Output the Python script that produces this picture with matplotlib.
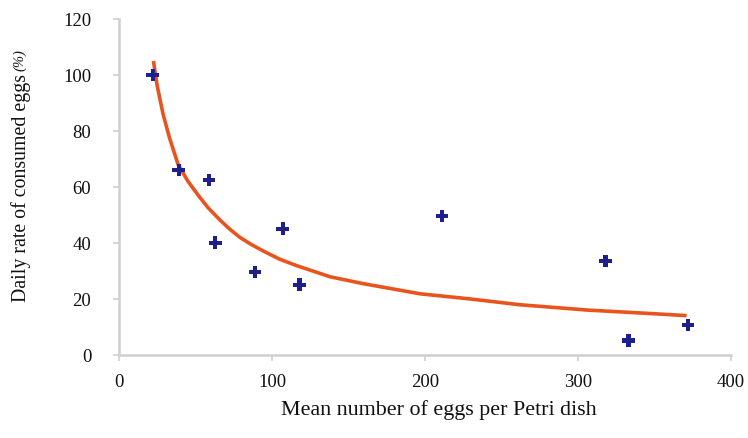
import matplotlib.pyplot as plt

eggs = [22, 39, 59, 63, 89, 107, 118, 211, 318, 333, 372]
rate = [100, 66, 62.5, 40, 29.5, 45, 25, 49.5, 33.5, 5, 10.5]

# trend line
trend_x = [22.5, 25, 28.8, 33, 38.6, 45, 52, 58.2, 66, 72.5, 79, 86, 94, 105, 116,
           138, 160, 197, 229, 262, 306, 349, 371]
trend_y = [105, 96, 86, 77.5, 68, 62, 56.8, 52.5, 48.1, 44.8, 41.9, 39.5, 37.1,
           34.1, 31.8, 27.8, 25.3, 21.7, 19.9, 17.8, 15.9, 14.6, 13.9]

plt.rcParams['font.family'] = 'Liberation Serif'

fig = plt.figure(figsize=(7.48, 4.39), dpi=100)
ax = fig.add_axes([119 / 748, 1 - 355.5 / 439, (731 - 119) / 748, (355.5 - 20) / 439])

ax.plot(trend_x, trend_y, color='#e8541e', linewidth=2.6, solid_capstyle='butt',
        solid_joinstyle='round', zorder=2)
ax.scatter(eggs, rate, marker='P', s=80, color='#1c1f8c', edgecolors='none', zorder=3)

ax.set_xlim(0, 400)
ax.set_ylim(0, 120)
ax.set_xticks([0, 100, 200, 300, 400])
ax.set_yticks([0, 20, 40, 60, 80, 100, 120])

for side in ['top', 'right']:
    ax.spines[side].set_visible(False)
for side in ['left', 'bottom']:
    ax.spines[side].set_color('#cfcfcf')
    ax.spines[side].set_linewidth(1.8)
ax.tick_params(axis='both', colors='#cfcfcf', length=4, width=1.2, labelcolor='#111111', labelsize=13.5)
ax.tick_params(axis='y', pad=16)
ax.tick_params(axis='x', pad=9)

fig.text(439 / 748, 1 - 410 / 439, 'Mean number of eggs per Petri dish',
         ha='center', va='center', fontsize=15.8, color='#111111')
ylab = fig.text(21 / 748, 1 - 302 / 439, 'Daily rate of consumed eggs',
                rotation=90, ha='center', va='bottom', fontsize=14.3, color='#111111')
fig.canvas.draw()
ax.annotate('(%)', xy=(0.5, 1.0), xycoords=ylab, xytext=(-1, 2), textcoords='offset points',
            rotation=90, ha='center', va='bottom', fontsize=10.5, style='italic',
            color='#111111', annotation_clip=False)

fig.savefig('out.png', dpi=100)
